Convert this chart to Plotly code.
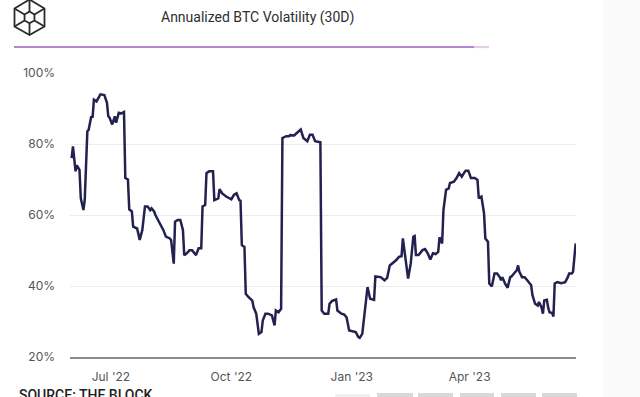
import plotly.graph_objects as go

# ---------------- data ----------------
dates = [
    "2022-06-01", "2022-06-02", "2022-06-04", "2022-06-05", "2022-06-07", "2022-06-08", "2022-06-10",
    "2022-06-11", "2022-06-13", "2022-06-14", "2022-06-16", "2022-06-17", "2022-06-18", "2022-06-20",
    "2022-06-23", "2022-06-26", "2022-06-28", "2022-06-29", "2022-06-30", "2022-07-02", "2022-07-04",
    "2022-07-05", "2022-07-07", "2022-07-09", "2022-07-11", "2022-07-12", "2022-07-14", "2022-07-15",
    "2022-07-17", "2022-07-18", "2022-07-21", "2022-07-23", "2022-07-25", "2022-07-27", "2022-07-29",
    "2022-07-31", "2022-08-01", "2022-08-03", "2022-08-04", "2022-08-06", "2022-08-08", "2022-08-10",
    "2022-08-12", "2022-08-15", "2022-08-16", "2022-08-18", "2022-08-19", "2022-08-21", "2022-08-23",
    "2022-08-25", "2022-08-26", "2022-08-28", "2022-08-30", "2022-09-01", "2022-09-04", "2022-09-06",
    "2022-09-08", "2022-09-09", "2022-09-11", "2022-09-12", "2022-09-14", "2022-09-17", "2022-09-18",
    "2022-09-21", "2022-09-22", "2022-09-24", "2022-09-27", "2022-10-01", "2022-10-03", "2022-10-05",
    "2022-10-07", "2022-10-08", "2022-10-09", "2022-10-11", "2022-10-12", "2022-10-14", "2022-10-17",
    "2022-10-18", "2022-10-20", "2022-10-22", "2022-10-24", "2022-10-25", "2022-10-27", "2022-10-29",
    "2022-11-01", "2022-11-03", "2022-11-04", "2022-11-06", "2022-11-08", "2022-11-09", "2022-11-12",
    "2022-11-14", "2022-11-15", "2022-11-18", "2022-11-20", "2022-11-23", "2022-11-25", "2022-11-28",
    "2022-11-30", "2022-12-02", "2022-12-04", "2022-12-08", "2022-12-09", "2022-12-11", "2022-12-14",
    "2022-12-15", "2022-12-17", "2022-12-20", "2022-12-21", "2022-12-24", "2022-12-26", "2022-12-28",
    "2022-12-30", "2023-01-01", "2023-01-04", "2023-01-06", "2023-01-07", "2023-01-09", "2023-01-11",
    "2023-01-13", "2023-01-15", "2023-01-18", "2023-01-19", "2023-01-22", "2023-01-23", "2023-01-26",
    "2023-01-28", "2023-01-30", "2023-02-01", "2023-02-04", "2023-02-06", "2023-02-08", "2023-02-09",
    "2023-02-11", "2023-02-13", "2023-02-15", "2023-02-17", "2023-02-18", "2023-02-19", "2023-02-21",
    "2023-02-24", "2023-02-26", "2023-02-28", "2023-03-02", "2023-03-04", "2023-03-06", "2023-03-08",
    "2023-03-09", "2023-03-11", "2023-03-12", "2023-03-14", "2023-03-16", "2023-03-17", "2023-03-20",
    "2023-03-22", "2023-03-24", "2023-03-26", "2023-03-28", "2023-03-29", "2023-03-31", "2023-04-02",
    "2023-04-05", "2023-04-07", "2023-04-08", "2023-04-10", "2023-04-12", "2023-04-13", "2023-04-15",
    "2023-04-16", "2023-04-18", "2023-04-20", "2023-04-22", "2023-04-24", "2023-04-25", "2023-04-26",
    "2023-04-28", "2023-04-30", "2023-05-02", "2023-05-03", "2023-05-05", "2023-05-07", "2023-05-08",
    "2023-05-09", "2023-05-11", "2023-05-13", "2023-05-15", "2023-05-18", "2023-05-19", "2023-05-21",
    "2023-05-23", "2023-05-24", "2023-05-26", "2023-05-27", "2023-05-28", "2023-05-30", "2023-05-31",
    "2023-06-01", "2023-06-03", "2023-06-04", "2023-06-05", "2023-06-07", "2023-06-10", "2023-06-13",
    "2023-06-15", "2023-06-16", "2023-06-18", "2023-06-19", "2023-06-21",
]
volatility = [
    76, 79.3, 72.3, 74, 72.7, 64.7, 61.4,
    64.2, 83.6, 84, 87.8, 87.4, 92.5, 92,
    94, 93.8, 91.6, 87.8, 87.4, 85.5, 87.8,
    86, 88.8, 88.6, 89, 70.4, 70, 61.6,
    61, 56.7, 56.2, 53, 55.8, 62.4, 62.4,
    61.4, 61.9, 61, 60, 58.6, 57.6, 55.8,
    53.9, 53.4, 52.9, 46.3, 58.1, 58.6, 58.6,
    55.8, 48.7, 49.2, 50.1, 50.1, 48.7, 50.6,
    50.6, 62.4, 62.8, 71.8, 72.3, 72.3, 64.2,
    64.7, 67.3, 66.1, 65.2, 64.4, 65.7, 66.1,
    64.2, 64, 51.5, 51, 37.8, 36.9, 35.9,
    34, 32.2, 26.5, 27, 30.3, 32.2, 32.2,
    31.7, 28.9, 33.1, 32.6, 33.6, 81.7, 82.2,
    82.2, 82.5, 82.4, 83.1, 84.1, 81.7, 80.8,
    82.6, 82.6, 80.8, 80.5, 33.1, 32.2, 32.2,
    35, 35.8, 36.2, 33.1, 32.2, 32, 31.2,
    27.5, 27.3, 27, 25.6, 25.4, 26.5, 33.1,
    39.7, 36.4, 36.1, 42.7, 42.7, 42.5, 41.6,
    42.3, 45.8, 46.3, 47.3, 48.2, 48.4, 53.4,
    47.3, 42.1, 46.3, 53.9, 54.1, 48.7, 48.7,
    50.1, 50.4, 49.2, 47.5, 49.2, 49, 49.6,
    53.7, 52, 61.4, 67.1, 67.5, 69, 69.4,
    70.4, 71.8, 70.8, 72, 72.5, 72.5, 70.4,
    70.4, 69.9, 64.7, 65.2, 60.5, 53.4, 52.5,
    40.7, 39.9, 43.5, 43.5, 42.5, 41.6, 42.5,
    40.7, 39.5, 42.5, 42.7, 43.6, 44.4, 45.8,
    44, 42.5, 42.5, 41.6, 40.2, 37.4, 35,
    34.5, 35.5, 33.9, 32.2, 35.9, 36.1, 33.9,
    32.6, 32.4, 31.4, 40.7, 41.1, 40.8, 41.1,
    42.5, 43.5, 43.5, 44, 52,
]
x_tick_dates = ["2022-07-01", "2022-10-01", "2023-01-01", "2023-04-01"]
x_tick_labels = ["Jul '22", "Oct '22", "Jan '23", "Apr '23"]
y_tick_values = [20, 40, 60, 80, 100]
y_tick_labels = ["20%", "40%", "60%", "80%", "100%"]
title_text = "Annualized BTC Volatility (30D)"
source_text = "SOURCE: THE BLOCK"

# ---------------- layout geometry (pixels) ----------------
W, H = 640, 397
L, R, T, B = 70, 576, 73, 357


def px(xp):
    return (xp - L) / (R - L)


def py(yp):
    return (B - yp) / (B - T)


fig = go.Figure()
fig.add_trace(go.Scatter(
    x=dates, y=volatility, mode="lines",
    line=dict(color="#23214f", width=2.5),
    hoverinfo="skip", showlegend=False,
))

shapes = []
# very light panel at right edge
shapes.append(dict(type="rect", xref="paper", yref="paper",
                   x0=px(603), x1=px(645), y0=py(400), y1=py(-5),
                   fillcolor="#fafafa", line=dict(width=0), layer="below"))
# purple rule under title
shapes.append(dict(type="line", xref="paper", yref="paper",
                   x0=px(14), x1=px(474), y0=py(47), y1=py(47),
                   line=dict(color="#b784d2", width=2.2)))
shapes.append(dict(type="line", xref="paper", yref="paper",
                   x0=px(474), x1=px(489), y0=py(47), y1=py(47),
                   line=dict(color="#e2cdea", width=2.2)))

# logo (cube)
cx, cy = 29.5, 17.5
outer = [(29.5, -0.5), (44.5, 8.5), (44.5, 26.5), (29.5, 35), (14.5, 26.5), (14.5, 8.5)]
inner = [(cx + (ox - cx) * 0.33, cy + (oy - cy) * 0.33) for ox, oy in outer]


def path_from(points, close=True):
    s = "M " + " L ".join(f"{px(a):.5f},{py(b):.5f}" for a, b in points)
    return s + (" Z" if close else "")


logo_line = dict(color="#2b2b2b", width=1.8)
shapes.append(dict(type="path", xref="paper", yref="paper", path=path_from(outer), line=logo_line))
shapes.append(dict(type="path", xref="paper", yref="paper", path=path_from(inner), line=logo_line))
for i in (0, 2, 4, 1, 3, 5):
    shapes.append(dict(type="path", xref="paper", yref="paper",
                       path=path_from([outer[i], inner[i]], close=False), line=logo_line))

# grey button stubs at bottom
for x0, x1 in [(377, 413), (418, 453), (460, 494), (501, 536), (542, 577)]:
    shapes.append(dict(type="rect", xref="paper", yref="paper",
                       x0=px(x0), x1=px(x1), y0=py(400), y1=py(393),
                       fillcolor="#d8d8d8", line=dict(width=0)))
shapes.append(dict(type="rect", xref="paper", yref="paper",
                   x0=px(335), x1=px(370), y0=py(400), y1=py(394),
                   fillcolor="#f0f0f0", line=dict(width=0)))

annotations = [
    dict(text=title_text, xref="paper", yref="paper", x=px(257), y=py(17),
         xanchor="center", yanchor="middle", showarrow=False,
         font=dict(family="Roboto", size=14, color="#2e2e2e")),
    dict(text=source_text, xref="paper", yref="paper", x=px(17), y=py(385),
         xanchor="left", yanchor="top", showarrow=False,
         font=dict(family="Roboto", size=14, color="#1f1f1f", weight=500)),
]

fig.update_layout(
    width=W, height=H,
    margin=dict(l=L, r=W - R, t=T, b=H - B, pad=0),
    paper_bgcolor="white", plot_bgcolor="white",
    shapes=shapes, annotations=annotations,
    xaxis=dict(
        type="date",
        range=["2022-05-30 18:00", "2023-06-21 06:00"],
        tickvals=x_tick_dates, ticktext=x_tick_labels,
        showgrid=False, zeroline=False,
        showline=True, linecolor="#8c8c8c", linewidth=1.5,
        ticks="", ticklabelstandoff=8,
        tickfont=dict(family="Inter", size=12, color="#555555"),
    ),
    yaxis=dict(
        range=[20, 100],
        tickvals=y_tick_values, ticktext=y_tick_labels,
        showgrid=True, gridcolor="#ececec", gridwidth=1,
        zeroline=False, showline=False,
        ticks="", ticklabelstandoff=14,
        tickfont=dict(family="Inter", size=12, color="#555555"),
    ),
)

fig.write_html("out.html", config={"displayModeBar": False},
               post_script=["document.body.style.margin='0';"])
